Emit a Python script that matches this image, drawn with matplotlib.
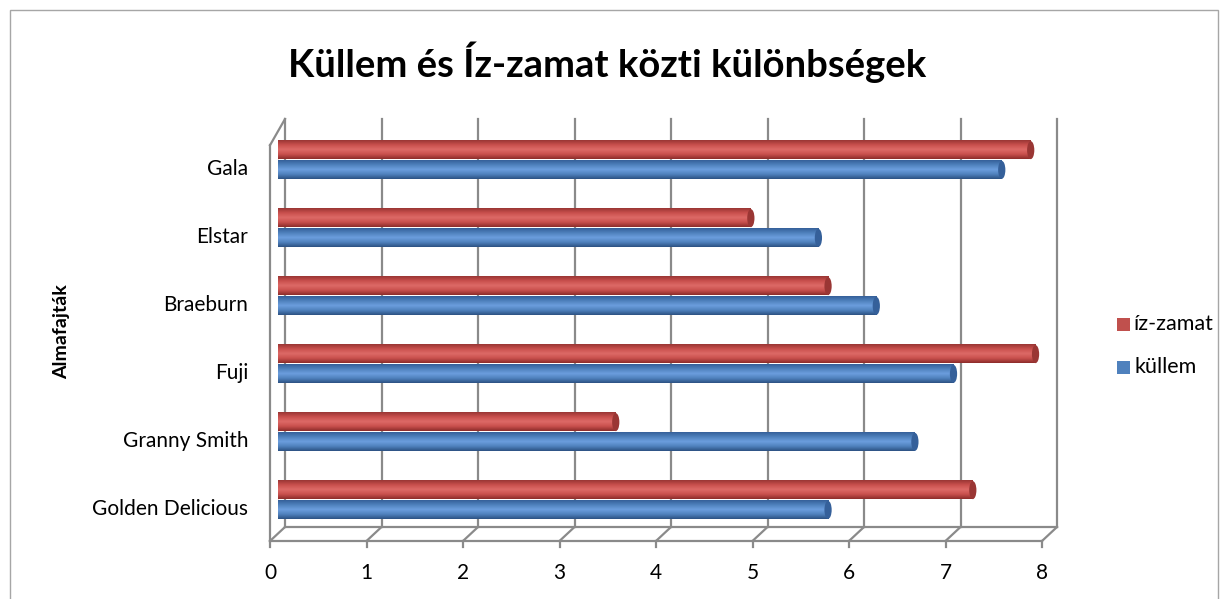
import numpy as np
import matplotlib.pyplot as plt
from matplotlib import transforms
from matplotlib.colors import LinearSegmentedColormap
from matplotlib.patches import Ellipse, Rectangle

plt.rcParams['font.family'] = ['Lato', 'DejaVu Sans']

# data
fajtak = ['Golden Delicious', 'Granny Smith', 'Fuji', 'Braeburn', 'Elstar', 'Gala']
kullem = [5.7, 6.6, 7.0, 6.2, 5.6, 7.5]
izzamat = [7.2, 3.5, 7.85, 5.7, 4.9, 7.8]
xticks = [0, 1, 2, 3, 4, 5, 6, 7, 8]

# cylinder colours (edge, highlight, body, shadow)
red_cols = ['#9a3634', '#dd6a67', '#c9504d', '#8c2d2b']
blue_cols = ['#35609a', '#6c9ede', '#4f81bd', '#2d5283']

fig = plt.figure(figsize=(12.29, 5.99), dpi=100)
fig.patch.set_facecolor('white')

# chart border
fig.add_artist(Rectangle((10 / 1229, -0.05), 1208 / 1229, 1 - 10 / 599 + 0.05,
                         transform=fig.transFigure, fill=False,
                         edgecolor='#a6a6a6', lw=1.0))

ax = fig.add_axes([278 / 1229, 65 / 599, 772 / 1229, 408 / 599])
ax.set_xlim(0, 8)
ax.set_ylim(-0.5, 5.5)
ax.axis('off')

back = transforms.offset_copy(ax.transData, fig=fig, x=7, y=7, units='dots')
front = transforms.offset_copy(ax.transData, fig=fig, x=-8, y=-7, units='dots')
grid_kw = dict(color='#8a8a8a', lw=1.6, clip_on=False, solid_capstyle='projecting')

# back wall gridlines
for x in xticks:
    ax.plot([x, x], [-0.5, 5.5], transform=back, **grid_kw)
# floor edges
ax.plot([0, 8], [-0.5, -0.5], transform=back, **grid_kw)
ax.plot([0, 8], [-0.5, -0.5], transform=front, **grid_kw)
for x in xticks:
    p_front = front.transform((x, -0.5))
    p_back = back.transform((x, -0.5))
    fig.add_artist(plt.Line2D([p_front[0] / 1229, p_back[0] / 1229],
                              [p_front[1] / 599, p_back[1] / 599],
                              transform=fig.transFigure, color='#8a8a8a', lw=1.6))
    # tick marks below the front edge
    fig.add_artist(plt.Line2D([p_front[0] / 1229, p_front[0] / 1229],
                              [p_front[1] / 599, (p_front[1] - 6) / 599],
                              transform=fig.transFigure, color='#8a8a8a', lw=1.6))
    ax.text(x, -0.5, str(x), transform=front + transforms.ScaledTranslation(0, -0.32, fig.dpi_scale_trans),
            ha='center', va='center', fontsize=15)
# left wall
ax.plot([0, 0], [-0.5, 5.32], transform=front, **grid_kw)
p1 = front.transform((0, 5.32))
p2 = back.transform((0, 5.5))
fig.add_artist(plt.Line2D([p1[0] / 1229, p2[0] / 1229], [p1[1] / 599, p2[1] / 599],
                          transform=fig.transFigure, color='#8a8a8a', lw=1.6))


def cylinder(y, v, h, cols):
    cmap = LinearSegmentedColormap.from_list('c', [cols[3], cols[2], cols[1], cols[2], cols[0]])
    grad = np.linspace(0, 1, 64).reshape(-1, 1)
    ax.imshow(grad, cmap=cmap, aspect='auto', extent=[0, v, y - h / 2, y + h / 2],
              origin='lower', zorder=3, interpolation='bilinear')
    w = 0.075
    ax.add_patch(Ellipse((0, y), w, h, facecolor=cols[2], edgecolor='none', zorder=2.9))
    ax.add_patch(Ellipse((v, y), w, h * 0.98, facecolor=cols[0], edgecolor='none', zorder=3.1))


ypos = np.arange(len(fajtak))
bh = 0.27
for i in ypos:
    cylinder(i - 0.145, kullem[i], bh, blue_cols)
    cylinder(i + 0.145, izzamat[i], bh, red_cols)

ax.set_xlim(0, 8)
ax.set_ylim(-0.5, 5.5)

for i, name in enumerate(fajtak):
    ax.text(-0.31, i - 0.13, name, ha='right', va='center', fontsize=15)

fig.text(62 / 1229, 1 - 332 / 599, 'Almafajták', rotation=90, ha='center', va='center',
         fontsize=14, fontweight='bold')
fig.text(607 / 1229, 1 - 62 / 599, 'Küllem és Íz-zamat közti különbségek', ha='center',
         va='center', fontsize=27.5, fontweight='bold')

# legend
for yy, col, lab in [(324, '#c0504d', 'íz-zamat'), (367, '#4f81bd', 'küllem')]:
    fig.add_artist(Rectangle((1117 / 1229, 1 - (yy + 6.5) / 599), 13 / 1229, 13 / 599,
                             transform=fig.transFigure, facecolor=col, edgecolor='none'))
    fig.text(1134 / 1229, 1 - yy / 599, lab, ha='left', va='center', fontsize=15.5)

fig.savefig('out.png', dpi=100)
